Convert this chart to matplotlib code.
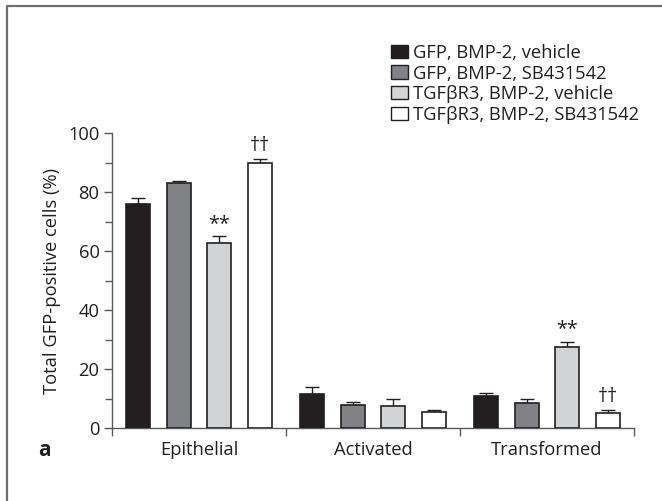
import numpy as np
import matplotlib.pyplot as plt
from matplotlib.patches import Patch
from matplotlib.lines import Line2D

groups = ['Epithelial', 'Activated', 'Transformed']
labels = ['GFP, BMP-2, vehicle', 'GFP, BMP-2, SB431542',
          'TGF\u03b2R3, BMP-2, vehicle', 'TGF\u03b2R3, BMP-2, SB431542']

gfp_vehicle = [75.8, 11.6, 10.7]
gfp_sb = [82.9, 7.8, 8.5]
tgf_vehicle = [62.7, 7.6, 27.3]
tgf_sb = [89.8, 5.4, 5.2]

gfp_vehicle_err = [2.2, 2.2, 1.2]
gfp_sb_err = [0.9, 1.1, 1.2]
tgf_vehicle_err = [2.3, 2.2, 1.9]
tgf_sb_err = [1.4, 0.7, 0.9]

tgf_vehicle_sig = ['**', '', '**']
tgf_sb_sig = ['\u2020\u2020', '', '\u2020\u2020']

plt.rcParams['font.family'] = ['Open Sans', 'DejaVu Sans']
txt = '#231f20'
fs = 13.2

fig = plt.figure(figsize=(6.62, 5.01), dpi=100)
ax = fig.add_axes([112/662, 73/501, 522/662, 295/501])

colors = ['#231f20', '#808285', '#d1d3d4', '#ffffff']
series = [gfp_vehicle, gfp_sb, tgf_vehicle, tgf_sb]
errs = [gfp_vehicle_err, gfp_sb_err, tgf_vehicle_err, tgf_sb_err]
sigs = [None, None, tgf_vehicle_sig, tgf_sb_sig]
x = np.arange(len(groups))
step = 0.233
width = 0.138

for i in range(4):
    pos = x + (i - 1.5) * step
    ax.bar(pos, series[i], width, color=colors[i], edgecolor=txt, linewidth=1.2,
           zorder=3)
    ax.errorbar(pos, series[i], yerr=[np.zeros(3), errs[i]], fmt='none',
                ecolor=txt, elinewidth=1.0, capsize=5, capthick=1.0, zorder=2)
    if sigs[i] is not None:
        for j in range(3):
            if sigs[i][j]:
                top = series[i][j] + errs[i][j]
                ax.text(pos[j], top + 4.3, sigs[i][j], ha='center', va='center',
                        fontsize=fs + 1, color=txt)

ax.set_xlim(-0.5, 2.5)
ax.set_ylim(0, 100)
ax.set_yticks([0, 20, 40, 60, 80, 100])
ax.set_yticks([10, 30, 50, 70, 90], minor=True)
ax.set_xticks([-0.5, 0.5, 1.5, 2.5])
ax.set_xticklabels([])
for j, g in enumerate(groups):
    ax.text(x[j], -7.5, g, ha='center', va='center', fontsize=fs, color=txt)

for s in ['top', 'right']:
    ax.spines[s].set_visible(False)
for s in ['left', 'bottom']:
    ax.spines[s].set_color('#58595b')
    ax.spines[s].set_linewidth(1.0)
ax.tick_params(axis='both', which='major', direction='out', length=6,
               width=1.0, color='#58595b', labelsize=fs, labelcolor=txt, pad=3)
ax.tick_params(axis='y', which='minor', direction='out', length=5,
               width=1.0, color='#58595b')
ax.set_ylabel('Total GFP-positive cells (%)', fontsize=fs, color=txt, labelpad=5)

fig.text(44/662, 1 - 450/501, 'a', fontsize=15, fontweight='bold', color=txt,
         ha='center', va='center')

handles = [Patch(facecolor=c, edgecolor=txt, linewidth=1.0) for c in colors]
fig.legend(handles, labels, loc='upper left', bbox_to_anchor=(391/662, 1 - 44/501),
           frameon=False, fontsize=fs, handlelength=0.9, handleheight=0.75,
           handletextpad=0.3, labelspacing=0.14, borderpad=0, borderaxespad=0,
           labelcolor=txt)

fig.add_artist(Line2D([7/662, 7/662, 1], [0, 1 - 6/501, 1 - 6/501],
                      transform=fig.transFigure, color='#6d6e71', linewidth=1.6))

plt.savefig('out.png', dpi=100)
